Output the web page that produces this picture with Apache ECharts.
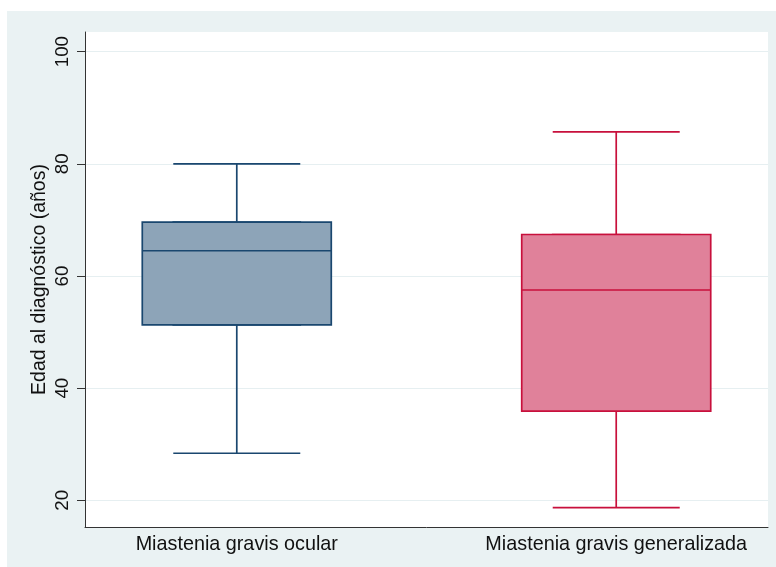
<!DOCTYPE html>
<html>
<head>
<meta charset="utf-8">
<script src="https://cdn.jsdelivr.net/npm/echarts@6/dist/echarts.min.js"></script>
<style>
  html, body { margin: 0; padding: 0; background: #ffffff; }
  #chart { width: 776px; height: 567px; }
</style>
</head>
<body>
<div id="chart"></div>
<script>
// Age at diagnosis by myasthenia gravis type (box summaries)
const categories = ['Miastenia gravis ocular', 'Miastenia gravis generalizada'];
const whiskerLow = [28.4, 18.7];
const q1 = [51.3, 35.9];
const median = [64.5, 57.5];
const q3 = [69.6, 67.4];
const whiskerHigh = [80.0, 85.7];
const yTicks = [20, 40, 60, 80, 100];

// Styling per group
const strokeColors = ['#1a476f', '#c8103c'];
const fillColors = ['#8da4b8', '#e0819a'];
// Horizontal slot of each group on the hidden 0..9 value scale
const slots = [2, 7];

const whiskerData = categories.map((c, i) => ({
  name: c,
  value: [slots[i], whiskerLow[i], q1[i], median[i], q3[i], whiskerHigh[i]],
  itemStyle: { color: fillColors[i], borderColor: strokeColors[i] }
}));
const boxData = categories.map((c, i) => ({
  name: c,
  value: [slots[i], q1[i], q1[i], median[i], q3[i], q3[i]],
  itemStyle: { color: fillColors[i], borderColor: strokeColors[i] }
}));

const FONT = 'Liberation Sans, Arial, sans-serif';
const chart = echarts.init(document.getElementById('chart'), null, { renderer: 'canvas' });

const xBase = {
  type: 'value', min: 0, max: 9,
  splitLine: { show: false },
  axisTick: { show: false }
};

chart.setOption({
  animation: false,
  backgroundColor: '#ffffff',
  graphic: [{
    type: 'rect', z: -10, silent: true,
    shape: { x: 7, y: 11, width: 769, height: 556 },
    style: { fill: '#eaf2f3' }
  }],
  grid: {
    left: 85, top: 32, right: 8, bottom: 40,
    show: true, backgroundColor: '#ffffff', borderWidth: 0
  },
  xAxis: [
    Object.assign({}, xBase, {
      axisLine: { show: true, onZero: false, lineStyle: { color: '#333333', width: 1 } },
      axisLabel: {
        customValues: slots,
        formatter: v => categories[slots.indexOf(Math.round(v))] || '',
        color: '#111111', fontFamily: FONT, fontSize: 19.8, margin: 8
      }
    }),
    Object.assign({}, xBase, {
      show: false
    })
  ],
  yAxis: {
    type: 'value', min: 15.25, max: 103.5,
    name: 'Edad al diagnóstico (años)',
    nameLocation: 'middle', nameRotate: 90, nameGap: 35,
    nameMoveOverlap: false,
    nameTextStyle: { color: '#111111', fontFamily: FONT, fontSize: 19.5 },
    axisLine: { show: true, onZero: false, lineStyle: { color: '#333333', width: 1 } },
    axisTick: { show: true, length: 8, customValues: yTicks, lineStyle: { color: '#333333', width: 1 } },
    axisLabel: {
      customValues: yTicks, rotate: 90, margin: 13,
      color: '#111111', fontFamily: FONT, fontSize: 18.8
    },
    splitLine: { show: true, lineStyle: { color: '#e6eff1', width: 1.2 } }
  },
  series: [
    {
      name: 'whiskers', type: 'boxplot', xAxisIndex: 1, z: 2,
      boxWidth: [127, 127],
      itemStyle: { borderWidth: 1.7 },
      data: whiskerData
    },
    {
      name: 'boxes', type: 'boxplot', xAxisIndex: 0, z: 3,
      boxWidth: [189, 189],
      itemStyle: { borderWidth: 1.7 },
      data: boxData
    }
  ]
});
</script>
</body>
</html>
